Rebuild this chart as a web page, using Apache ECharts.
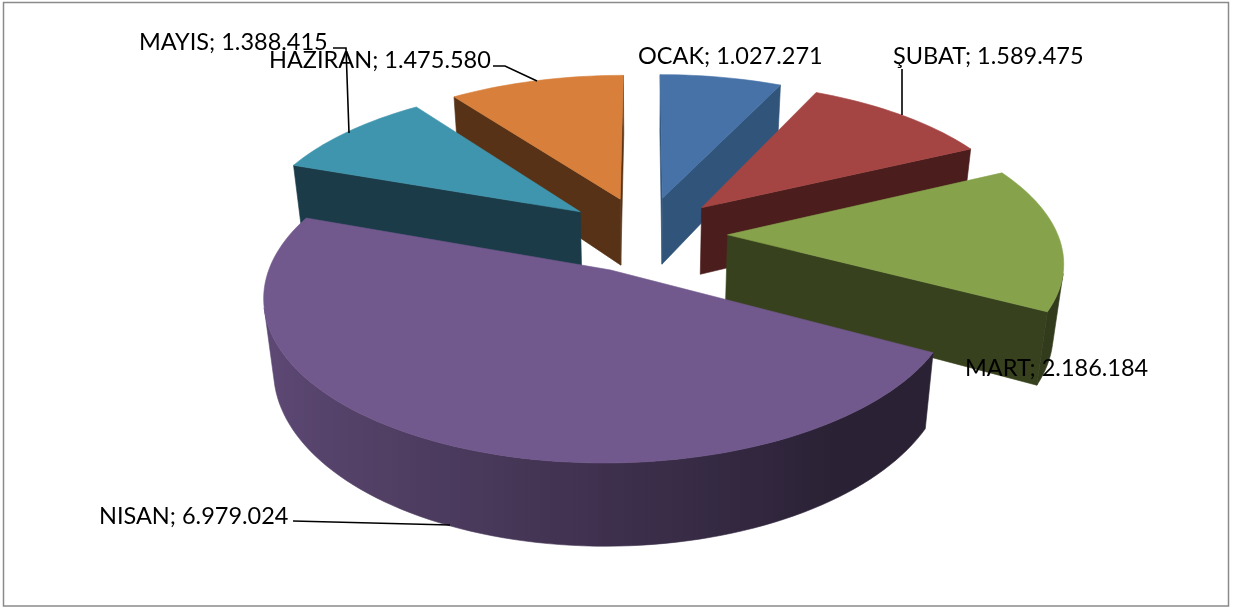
<!DOCTYPE html>
<html>
<head>
<meta charset="utf-8">
<style>html,body{margin:0;padding:0;background:#fff}#c{width:1233px;height:610px}</style>
<script src="https://cdn.jsdelivr.net/npm/echarts@6/dist/echarts.min.js"></script>
</head>
<body>
<div id="c"></div>
<script>
const months = ['OCAK', 'ŞUBAT', 'MART', 'NISAN', 'MAYIS', 'HAZIRAN'];
const values = [1027271, 1589475, 2186184, 6979024, 1388415, 1475580];

const topColors = ['#4672a8', '#a54543', '#86a34c', '#71588d', '#4095ae', '#d77f3b'];
const wallColors = ['#31547a', '#4b1d1c', '#37411d', '#2a2138', '#1a3b47', '#573216'];
const labelBoxes = [[638, 56], [893, 56], [965, 368], [99, 516], [139, 42], [269, 60]];
const leaders = [
  [],
  [[902, 69], [902, 115]],
  [],
  [[293, 521], [450, 525]],
  [[333, 48], [346, 48], [349, 133]],
  [[493, 66], [505, 66], [537, 81]]
];

// projection of the pie plane
const CX = 645, CY = 234, SX = 330, SY = 152, PERSP = 0.15, PERSP_Z = 0.025, DEPTH = 70, EXPLODE = 0.25;
const total = values.reduce((a, b) => a + b, 0);

function project(X, Y, z) {
  const w = 1 + PERSP * Y + PERSP_Z * z;
  return [CX + SX * X / w, CY - SY * Y / (1 + PERSP * Y) + z * DEPTH / (1 + PERSP * Y + PERSP_Z)];
}
function hexMul(hex, f) {
  const n = parseInt(hex.slice(1), 16);
  const c = [n >> 16, (n >> 8) & 255, n & 255].map(v => Math.round(v * f));
  return 'rgb(' + c.join(',') + ')';
}
function area(q) {
  let s = 0;
  q.forEach((p, i) => { const r = q[(i + 1) % q.length]; s += p[0] * r[1] - r[0] * p[1]; });
  return s / 2;
}
function sliceAngles(i) {
  let a = 0;
  for (let k = 0; k < i; k++) a += values[k];
  return [a / total * 2 * Math.PI, (a + values[i]) / total * 2 * Math.PI];
}
const polygon = (pts, fill) => ({
  type: 'polygon', shape: { points: pts },
  style: { fill: fill, stroke: fill, lineWidth: 0.6 }
});

function renderSlice(params, api) {
  const i = api.value(0);
  const [a0, a1] = sliceAngles(i);
  const mid = (a0 + a1) / 2;
  const ox = EXPLODE * Math.sin(mid), oy = EXPLODE * Math.cos(mid);
  const N = Math.max(8, Math.round((a1 - a0) / 0.03));
  const rim = [];
  for (let k = 0; k <= N; k++) {
    const t = a0 + (a1 - a0) * k / N;
    rim.push({ t: t, X: ox + Math.sin(t), Y: oy + Math.cos(t) });
  }
  const top = q => project(q.X, q.Y, 0);
  const bot = q => project(q.X, q.Y, 1);
  const apex = { X: ox, Y: oy };
  const children = [];
  const first = rim[0], last = rim[N];
  const startWall = [top(apex), top(first), bot(first), bot(apex)];
  const endWall = [top(last), top(apex), bot(apex), bot(last)];
  if (area(startWall) < 0) children.push(polygon(startWall, wallColors[i]));
  if (area(endWall) < 0) children.push(polygon(endWall, wallColors[i]));

  // the visible part of the curved outer wall, shaded across the screen
  const seen = [];
  for (let k = 0; k < N; k++) {
    const q = [top(rim[k]), top(rim[k + 1]), bot(rim[k + 1]), bot(rim[k])];
    if (area(q) < 0) {
      if (!seen.length) seen.push(rim[k]);
      seen.push(rim[k + 1]);
    }
  }
  if (seen.length) {
    const pts = seen.map(top).concat(seen.slice().reverse().map(bot));
    const xs = pts.map(p => p[0]);
    const xMin = Math.min(...xs), xMax = Math.max(...xs);
    const stops = seen.map(q => ({
      offset: Math.min(1, Math.max(0, (top(q)[0] - xMin) / (xMax - xMin))),
      color: hexMul(topColors[i], Math.max(0.37, 0.55 - 0.29 * Math.sin(q.t)))
    })).sort((p, q) => p.offset - q.offset);
    children.push(polygon(pts, {
      type: 'linear', global: true, x: xMin, y: 0, x2: xMax, y2: 0, colorStops: stops
    }));
  }
  const face = [top(apex)].concat(rim.map(top));
  children.push(polygon(face, topColors[i]));
  return { type: 'group', children: children };
}

function renderLabel(params, api) {
  const i = api.value(0);
  const children = [];
  if (leaders[i].length) {
    children.push({
      type: 'polyline', shape: { points: leaders[i] },
      style: { stroke: '#000', lineWidth: 1.6, fill: 'none' }
    });
  }
  children.push({
    type: 'text',
    style: {
      x: labelBoxes[i][0], y: labelBoxes[i][1],
      text: months[i] + '; ' + values[i].toLocaleString('de-DE'),
      font: '23.5px Lato, "Open Sans", sans-serif',
      fill: '#000', textVerticalAlign: 'middle', textAlign: 'left'
    }
  });
  return { type: 'group', children: children };
}

// back slices first, so the nearer ones cover them
const order = months.map((m, i) => i).sort((p, q) => {
  const c = i => { const [a, b] = sliceAngles(i); return Math.cos((a + b) / 2); };
  return c(q) - c(p);
});

const chart = echarts.init(document.getElementById('c'), null, { renderer: 'canvas' });
chart.setOption({
  animation: false,
  backgroundColor: '#fff',
  xAxis: { show: false, min: 0, max: 1 },
  yAxis: { show: false, min: 0, max: 1 },
  grid: { left: 0, right: 0, top: 0, bottom: 0 },
  graphic: [{
    type: 'rect', shape: { x: 3.5, y: 2.5, width: 1225, height: 603.5 },
    style: { fill: 'none', stroke: '#8a8a8a', lineWidth: 1.5 }, silent: true, z: 0
  }],
  series: [
    { type: 'custom', coordinateSystem: 'none', data: order.map(i => [i]), renderItem: renderSlice, z: 2, silent: true },
    { type: 'custom', coordinateSystem: 'none', data: months.map((m, i) => [i]), renderItem: renderLabel, z: 3, silent: true }
  ]
});
</script>
</body>
</html>
